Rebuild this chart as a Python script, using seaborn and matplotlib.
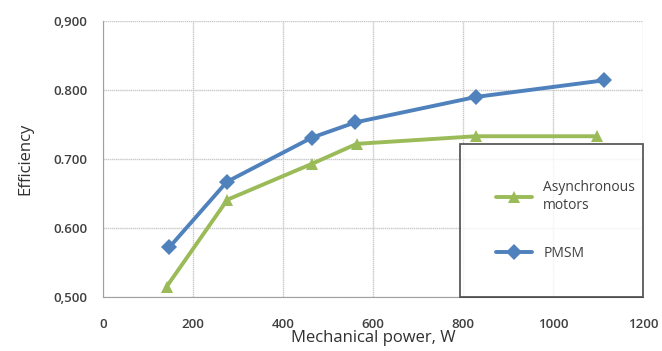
import matplotlib
matplotlib.use("Agg")
import matplotlib.pyplot as plt
import seaborn as sns
import pandas as pd

power_async = [141, 276, 464, 564, 829, 1098]
eff_async = [0.515, 0.641, 0.693, 0.722, 0.733, 0.733]
power_pmsm = [147, 275, 464, 560, 829, 1113]
eff_pmsm = [0.572, 0.667, 0.731, 0.753, 0.790, 0.814]

series = ["Asynchronous\nmotors", "PMSM"]
colors = ["#9BBB59", "#4F81BD"]
markers = ["^", "D"]

x_ticks = [0, 200, 400, 600, 800, 1000, 1200]
y_ticks = [0.5, 0.6, 0.7, 0.8, 0.9]
y_labels = ["0,500", "0.600", "0.700", "0.800", "0,900"]

df = pd.concat([
    pd.DataFrame({"power": power_async, "eff": eff_async, "motor": series[0]}),
    pd.DataFrame({"power": power_pmsm, "eff": eff_pmsm, "motor": series[1]}),
])

sns.set_style("white")
plt.rcParams["font.family"] = ["Open Sans", "DejaVu Sans"]

fig = plt.figure(figsize=(6.62, 3.51), dpi=100)
ax = fig.add_axes([0.156, 0.154, 0.815, 0.786])

sns.lineplot(data=df, x="power", y="eff", hue="motor", style="motor",
             palette=dict(zip(series, colors)), markers=dict(zip(series, markers)),
             dashes=False, linewidth=2.8, markersize=8, markeredgewidth=0,
             ax=ax)

ax.set_xlim(0, 1200)
ax.set_ylim(0.5, 0.9)
ax.set_xticks(x_ticks)
ax.set_yticks(y_ticks)
ax.set_yticklabels(y_labels)
ax.grid(True, color="#c8c8c8", linewidth=1, linestyle=(0, (1, 0.5)))
for s in ["top", "right"]:
    ax.spines[s].set_visible(False)
for s in ["left", "bottom"]:
    ax.spines[s].set_color("#a0a0a0")
ax.tick_params(axis="both", length=5, color="#a0a0a0", direction="inout",
               labelsize=9.5, labelcolor="#404040")
ax.tick_params(axis="x", pad=13)
ax.tick_params(axis="y", pad=9)
for lbl in ax.get_yticklabels() + ax.get_xticklabels():
    lbl.set_fontweight("semibold")

ax.set_xlabel("Mechanical power, W", fontsize=12, color="#303030", labelpad=-1)
ax.set_ylabel("Efficiency", fontsize=12, color="#303030", labelpad=14)

leg = ax.legend(loc="lower left", bbox_to_anchor=(0.661, 0.0, 0.339, 0.547),
                mode="expand", borderaxespad=0, frameon=True, fancybox=False,
                borderpad=2.6, labelspacing=2.4, handlelength=2.6,
                handletextpad=0.8, fontsize=10)
leg.get_frame().set_edgecolor("#303030")
leg.get_frame().set_linewidth(1.3)
for t in leg.get_texts():
    t.set_color("#404040")

fig.savefig("out.png", dpi=100)
